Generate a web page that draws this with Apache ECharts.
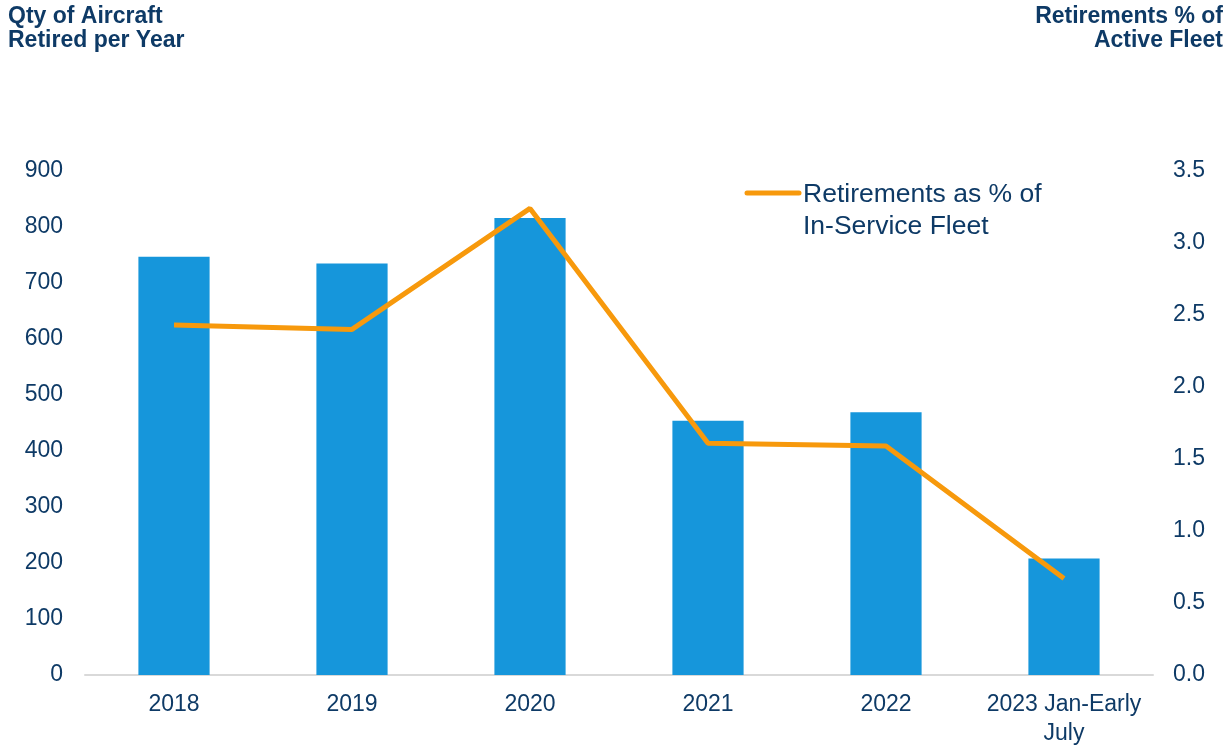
<!DOCTYPE html>
<html>
<head>
<meta charset="utf-8">
<script src="https://cdn.jsdelivr.net/npm/echarts@6/dist/echarts.min.js"></script>
<style>
  html, body { margin: 0; padding: 0; background: #fff; }
  #chart { width: 1230px; height: 745px; }
</style>
</head>
<body>
<div id="chart"></div>
<script>
const categories = ['2018', '2019', '2020', '2021', '2022', '2023 Jan-Early\nJuly'];
const retiredQty = [747, 735, 816, 454, 469, 208];
const retiredPct = [2.43, 2.40, 3.24, 1.61, 1.59, 0.67];
const lineName = 'Retirements as % of\nIn-Service Fleet';

const navy = '#0e3a66';
const font = '"Liberation Sans", Arial, sans-serif';
const myChart = echarts.init(document.getElementById('chart'));

const option = {
    backgroundColor: '#ffffff',
    textStyle: { fontFamily: font },
    graphic: [
        {
            type: 'text',
            x: 8,
            y: 5,
            style: {
                text: 'Qty of Aircraft\nRetired per Year',
                fontSize: 23,
                fontWeight: 'bold',
                lineHeight: 24,
                fill: navy,
                fontFamily: font
            }
        },
        {
            type: 'text',
            x: 1223,
            y: 5,
            style: {
                text: 'Retirements % of\nActive Fleet',
                fontSize: 23,
                fontWeight: 'bold',
                lineHeight: 24,
                align: 'right',
                fill: navy,
                fontFamily: font
            }
        },
        {
            type: 'line',
            shape: { x1: 747, y1: 193, x2: 799, y2: 193 },
            style: { stroke: '#f7990c', lineWidth: 5, lineCap: 'round' }
        },
        {
            type: 'text',
            x: 803,
            y: 179,
            style: {
                text: lineName,
                fontSize: 26.5,
                lineHeight: 32,
                fill: navy,
                fontFamily: font
            }
        }
    ],
    grid: {
        left: 85,
        right: 77,
        top: 171,
        bottom: 70,
        containLabel: false,
        outerBoundsMode: 'none'
    },
    xAxis: {
        type: 'category',
        data: categories,
        axisLine: { lineStyle: { color: '#d9d9d9', width: 2 } },
        axisTick: { show: false },
        axisLabel: {
            color: navy,
            fontSize: 23,
            margin: 15,
            lineHeight: 29,
            interval: 0
        }
    },
    yAxis: [
        {
            type: 'value',
            min: 0,
            max: 900,
            interval: 100,
            axisLine: { show: false },
            axisTick: { show: false },
            splitLine: { show: false },
            axisLabel: { color: navy, fontSize: 23, margin: 22 }
        },
        {
            type: 'value',
            min: 0,
            max: 3.5,
            interval: 0.5,
            position: 'right',
            axisLine: { show: false },
            axisTick: { show: false },
            splitLine: { show: false },
            axisLabel: {
                color: navy,
                fontSize: 23,
                margin: 20,
                formatter: v => v.toFixed(1)
            }
        }
    ],
    series: [
        {
            name: 'Qty Retired',
            type: 'bar',
            data: retiredQty,
            barWidth: '40%',
            itemStyle: { color: '#1696db' },
            yAxisIndex: 0
        },
        {
            name: lineName,
            type: 'line',
            data: retiredPct,
            yAxisIndex: 1,
            symbol: 'none',
            lineStyle: { color: '#f7990c', width: 5 },
            z: 3
        }
    ]
};

myChart.setOption(option);
</script>
</body>
</html>
